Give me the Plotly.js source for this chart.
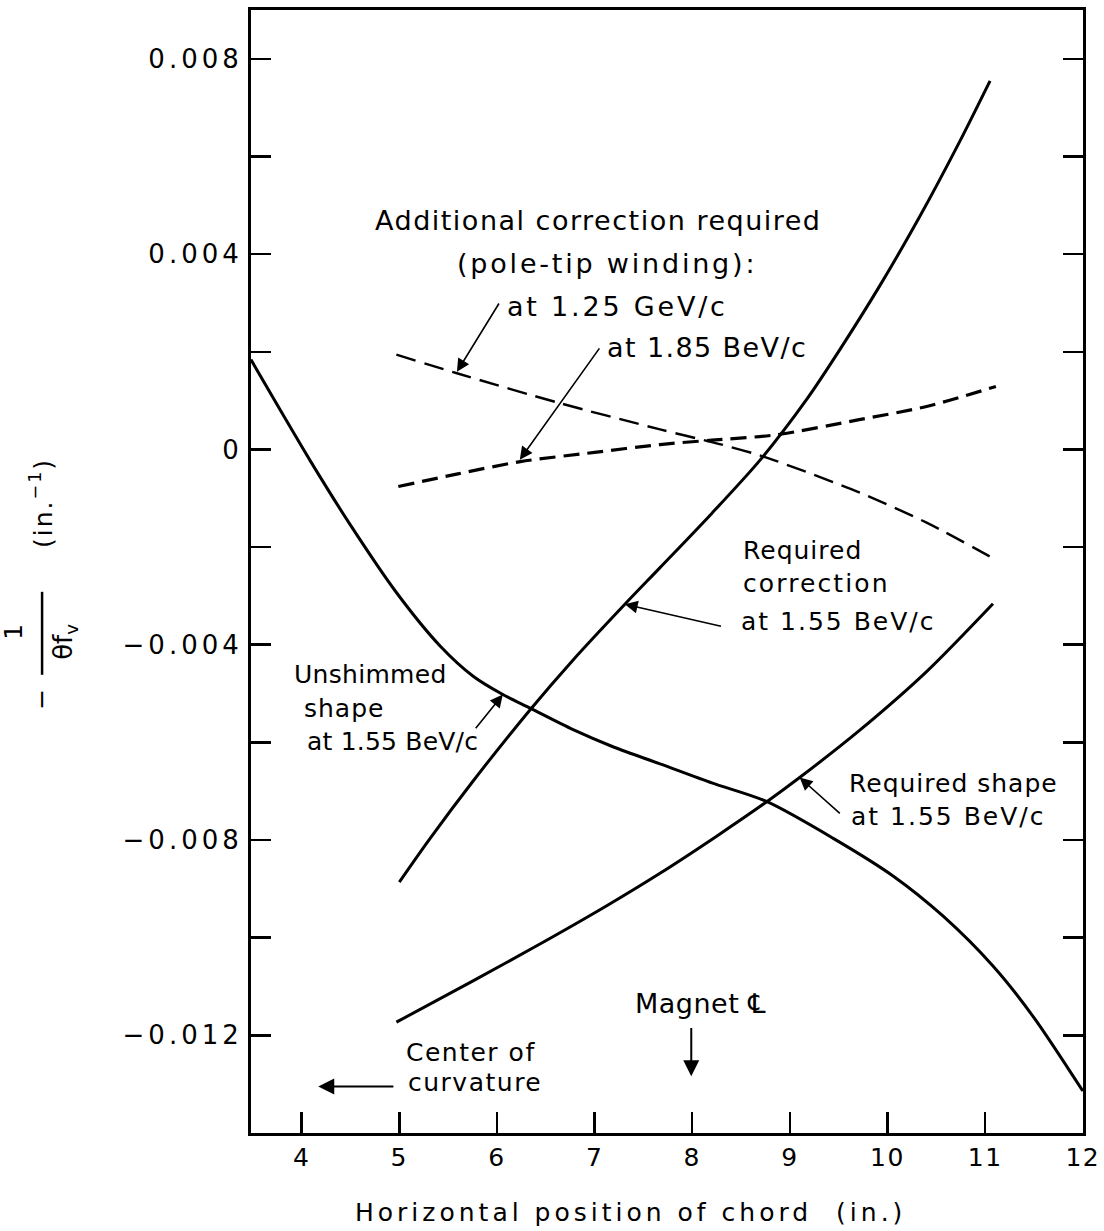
<!DOCTYPE html>
<html>
<head>
<meta charset="utf-8">
<script src="https://cdn.plot.ly/plotly-3.0.1.min.js"></script>
<style>
  html, body { margin: 0; padding: 0; background: #ffffff; }
  #chart { width: 1104px; height: 1231px; }
  .ytick text { letter-spacing: 4px; }
  .xtick text { letter-spacing: 1.5px; }
</style>
</head>
<body>
<div id="chart"></div>
<script>
// ---------- data ----------
const unshimmedX = [3.48, 3.8, 4.09, 4.49, 4.97, 5.42, 5.76, 6.06, 6.34, 6.78, 7.2, 7.67, 8.2, 8.76, 9.44, 10.06, 10.57, 11.08, 11.49, 12.0];
const unshimmedY = [0.00184, 0.00074, -0.00024, -0.00152, -0.00293, -0.00403, -0.00465, -0.00502, -0.00530, -0.00574, -0.00610, -0.00644, -0.00683, -0.00721, -0.00796, -0.00874, -0.00956, -0.01058, -0.01161, -0.01314];

const reqCorrX = [5.0, 5.31, 5.76, 6.34, 6.78, 7.31, 7.67, 8.2, 8.69, 9.17, 9.51, 9.92, 10.33, 10.74, 11.05];
const reqCorrY = [-0.00886, -0.00798, -0.00678, -0.00533, -0.00431, -0.00317, -0.00242, -0.00131, -0.00023, 0.00102, 0.00204, 0.00335, 0.00477, 0.00631, 0.00755];

const reqShapeX = [4.97, 5.76, 6.44, 7.12, 7.67, 8.25, 8.76, 9.10, 9.71, 10.40, 11.08];
const reqShapeY = [-0.01173, -0.01088, -0.01013, -0.00935, -0.00868, -0.00792, -0.00722, -0.00672, -0.00576, -0.00455, -0.00316];

const pole125X = [4.97, 5.59, 6.64, 7.67, 8.28, 8.72, 9.71, 10.40, 11.10];
const pole125Y = [0.00194, 0.00156, 0.00095, 0.00041, 0.00011, -0.00014, -0.00088, -0.00150, -0.00225];

const pole185X = [4.99, 5.6, 6.24, 7.0, 7.67, 8.2, 8.86, 9.71, 10.40, 11.11];
const pole185Y = [-0.00076, -0.00050, -0.00025, -0.00006, 0.00010, 0.00019, 0.00030, 0.00061, 0.00088, 0.00129];

const xTickVals = [4, 5, 6, 7, 8, 9, 10, 11, 12];
const xTickText = ['4', '5', '6', '7', '8', '9', '10', '11', '12'];
const yTickVals = [-0.012, -0.010, -0.008, -0.006, -0.004, -0.002, 0, 0.002, 0.004, 0.006, 0.008];
const yTickText = ['\u22120.012', ' ', '\u22120.008', ' ', '\u22120.004', ' ', '0', ' ', '0.004', ' ', '0.008'];

const xTitle = 'Horizontal position of chord \u00a0(in.)';

// ---------- helpers ----------
const FONT = 'DejaVu Sans';
const sp = (t, ls) => '<span style="letter-spacing:' + ls + 'px">' + t + '</span>';

function solid(x, y) {
  return { x: x, y: y, type: 'scatter', mode: 'lines',
           line: { color: 'black', width: 3, shape: 'spline', smoothing: 0.8 },
           hoverinfo: 'skip' };
}
function dashed(x, y, w, dash) {
  return { x: x, y: y, type: 'scatter', mode: 'lines',
           line: { color: 'black', width: w, dash: dash, shape: 'spline', smoothing: 0.8 },
           hoverinfo: 'skip' };
}

const traces = [
  solid(unshimmedX, unshimmedY),
  solid(reqCorrX, reqCorrY),
  solid(reqShapeX, reqShapeY),
  dashed(pole125X, pole125Y, 2.4, '20px,9px'),
  dashed(pole185X, pole185Y, 3.2, '16px,8px')
];

function label(x, y, text, size, anchor, ls) {
  return { x: x, y: y, xref: 'x', yref: 'y', text: sp(text, ls), showarrow: false,
           xanchor: anchor, yanchor: 'middle', font: { family: FONT, size: size, color: 'black' } };
}
function arrow(hx, hy, tx, ty, w) {
  return { x: hx, y: hy, ax: tx, ay: ty, xref: 'x', yref: 'y', axref: 'x', ayref: 'y',
           text: '', showarrow: true, arrowhead: 2, arrowsize: 1.6, arrowwidth: w || 1.6,
           arrowcolor: 'black', standoff: 0, startstandoff: 0 };
}
function paperText(x, y, text, size, angle) {
  return { x: x, y: y, xref: 'paper', yref: 'paper', text: text, showarrow: false,
           xanchor: 'center', yanchor: 'middle', textangle: angle || 0,
           font: { family: FONT, size: size, color: 'black' } };
}

const annotations = [
  // top block
  label(7.035, 0.00469, 'Additional correction required', 27, 'center', 1.5),
  label(7.127, 0.00381, '(pole-tip winding):', 27, 'center', 2.8),
  label(7.23, 0.00293, 'at 1.25 GeV/c', 27, 'center', 2.8),
  label(8.148, 0.00209, 'at 1.85 BeV/c', 27, 'center', 1.4),
  arrow(5.59, 0.00159, 6.03, 0.00302),
  arrow(6.234, -0.00021, 7.06, 0.0021),
  // required correction
  label(8.50, -0.002074, 'Required', 25, 'left', 1),
  label(8.50, -0.002744, 'correction', 25, 'left', 2.1),
  label(8.48, -0.003522, 'at 1.55 BeV/c', 25, 'left', 2),
  arrow(7.31, -0.00317, 8.31, -0.00363),
  // unshimmed
  label(3.90, -0.004614, 'Unshimmed', 25, 'left', 0.3),
  label(4.00, -0.00531, 'shape', 25, 'left', 1),
  label(4.03, -0.00598, 'at 1.55 BeV/c', 25, 'left', 0.2),
  arrow(6.06, -0.00502, 5.77, -0.00574),
  // required shape
  label(9.59, -0.006846, 'Required shape', 25, 'left', 1),
  label(9.61, -0.007522, 'at 1.55 BeV/c', 25, 'left', 2),
  arrow(9.10, -0.00672, 9.527, -0.00748),
  // magnet centre line
  label(8.087, -0.01135, 'Magnet \u2104', 27, 'center', 0.5),
  arrow(7.99, -0.01284, 7.99, -0.01182, 2),
  // centre of curvature
  label(5.05, -0.01235, 'Center of', 25, 'left', 1.5),
  label(5.07, -0.012963, 'curvature', 25, 'left', 1.5),
  arrow(4.17, -0.01305, 4.955, -0.01305, 2),
  // axis titles
  paperText(0.4566, -0.0707, sp(xTitle, 4), 25, 0),
  paperText(-0.2511, 0.3858, '\u2212', 25, -90),
  paperText(-0.2848, 0.4463, '1', 25, -90),
  paperText(-0.2235, 0.4374, '\u03b8f<sub>v</sub>', 26, -90),
  paperText(-0.2511, 0.5611, sp('(in.<sup>\u22121</sup>)', 2), 25, -90)
];

const shapes = [
  { type: 'line', xref: 'paper', yref: 'paper', x0: -0.2511, x1: -0.2511, y0: 0.408, y1: 0.4819,
    line: { color: 'black', width: 2.5 } }
];

const axisCommon = {
  ticks: 'inside', tickwidth: 2.5, tickcolor: 'black',
  showline: true, linewidth: 3, linecolor: 'black',
  showgrid: false, zeroline: false, fixedrange: true
};

const layout = {
  width: 1104, height: 1231,
  margin: { l: 251, r: 21, t: 10, b: 98 },
  paper_bgcolor: 'white', plot_bgcolor: 'white',
  showlegend: false,
  font: { family: FONT, color: 'black', size: 25 },
  xaxis: Object.assign({}, axisCommon, {
    range: [3.481, 12.002], tickmode: 'array', tickvals: xTickVals, ticktext: xTickText,
    ticklen: 21, mirror: true, tickfont: { family: FONT, size: 25, color: 'black' }
  }),
  yaxis: Object.assign({}, axisCommon, {
    range: [-0.0140, 0.0090], tickmode: 'array', tickvals: yTickVals, ticktext: yTickText,
    ticklen: 20, mirror: 'ticks', tickfont: { family: FONT, size: 26, color: 'black' }
  }),
  annotations: annotations,
  shapes: shapes
};

Plotly.newPlot('chart', traces, layout, { staticPlot: true, displayModeBar: false });
</script>
</body>
</html>
